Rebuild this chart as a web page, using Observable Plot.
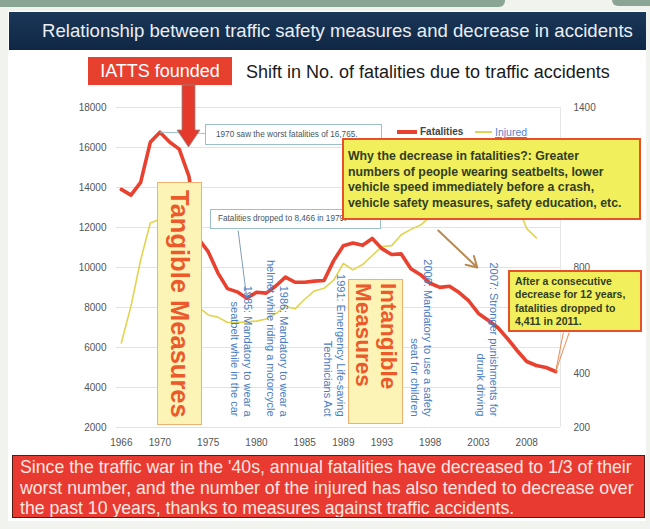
<!DOCTYPE html>
<html><head><meta charset="utf-8">
<script src="https://cdn.jsdelivr.net/npm/d3@7"></script>
<script src="https://cdn.jsdelivr.net/npm/@observablehq/plot@0.6"></script>
<style>
body{margin:0;background:#f1f3ee;font-family:"Liberation Sans",Arial,sans-serif;}
#page{position:relative;width:650px;height:529px;overflow:hidden;}
.abs{position:absolute;}
.callout{position:absolute;box-sizing:border-box;background:#fff;border:1px solid #9cc0c8;font-size:8.2px;color:#445566;white-space:nowrap;}
.ybox{position:absolute;box-sizing:border-box;background:#f1ef5c;border:2px solid #e8502a;font-weight:bold;color:#323d22;white-space:nowrap;}
.mbox{position:absolute;box-sizing:border-box;background:#fbf4b6;border:1.5px solid #f0b070;color:#ec5a2c;font-weight:bold;display:flex;justify-content:center;}
.vert{writing-mode:vertical-rl;white-space:nowrap;}
</style></head><body>
<div id="page">
  <div class="abs" style="left:0;top:0;width:505px;height:7px;background:#8aa593;border-radius:0 0 6px 0"></div>
  <div class="abs" style="left:612px;top:0;width:38px;height:6px;background:#8aa593;border-radius:0 0 0 6px"></div>
  <div class="abs" style="left:8px;top:11px;width:638px;height:510px;background:#fff;"></div>
  <div class="abs" style="left:9px;top:12px;width:637px;height:38px;background:linear-gradient(#1b3758,#0f2744);color:#e9eef4;font-size:18.6px;line-height:38px;padding-left:33px;box-sizing:border-box;">Relationship between traffic safety measures and decrease in accidents</div>
  <div class="abs" style="left:88px;top:57px;width:144px;height:28px;background:#e8402f;color:#fff;font-size:18px;line-height:28px;text-align:center;">IATTS founded</div>
  <div class="abs" style="left:246px;top:61px;font-size:18px;line-height:22px;color:#1a1a1a;white-space:nowrap;">Shift in No. of fatalities due to traffic accidents</div>
  <div id="chart" class="abs" style="left:0;top:50px"></div>

  <svg class="abs" style="left:0;top:0" width="650" height="160">
    <polygon points="182,85 195,85 195,130 200,130 188.5,147 177,130 182,130" fill="#e53a2b" stroke="#8c8c8c" stroke-width="0.8"/>
  </svg>

  <div class="callout" style="left:205px;top:124px;width:177px;height:21px;line-height:19px;padding-left:10px;">1970 saw the worst fatalities of 16,765.</div>
  <div class="callout" style="left:210px;top:209px;width:171px;height:20px;line-height:18px;padding-left:7px;">Fatalities dropped to 8,466 in 1979.</div>

  <div class="abs" style="left:397px;top:130px;width:20px;height:4px;background:#e8412f"></div>
  <div class="abs" style="left:420px;top:126px;font-size:10px;line-height:12px;font-weight:bold;color:#444">Fatalities</div>
  <div class="abs" style="left:475px;top:131px;width:17px;height:1.6px;background:#e2d44e"></div>
  <div class="abs" style="left:495px;top:126px;font-size:10.5px;line-height:12px;color:#5a7fc8;text-decoration:underline">Injured</div>

  <div class="ybox" style="left:342px;top:138px;width:299px;height:82px;font-size:12.3px;line-height:15.7px;padding:9px 0 0 4px;">Why the decrease in fatalities?: Greater<br>numbers of people wearing seatbelts, lower<br>vehicle speed immediately before a crash,<br>vehicle safety measures, safety education, etc.</div>
  <div class="ybox" style="left:508px;top:270px;width:134px;height:62px;font-size:10.5px;line-height:13.3px;padding:3px 0 0 5px;">After a consecutive<br>decrease for 12 years,<br>fatalities dropped to<br>4,411 in 2011.</div>

  <div class="mbox" style="left:157px;top:182px;width:45px;height:243px;align-items:center;"><div class="vert" style="font-size:25.5px;">Tangible Measures</div></div>
  <div class="mbox" style="left:348px;top:279px;width:55px;height:145px;align-items:flex-start;padding-top:3px;"><div class="vert" style="font-size:22.5px;line-height:25px;">Intangible<br>Measures</div></div>

  <div class="abs" style="left:12px;top:455px;width:633px;height:63px;box-sizing:border-box;background:#e83a30;color:#fde6e2;font-size:17.7px;line-height:20.5px;padding:1px 0 0 7px;border:1px solid #5a1a14;white-space:nowrap;overflow:hidden;">Since the traffic war in the '40s, annual fatalities have decreased to 1/3 of their<br>worst number, and the number of the injured has also tended to decrease over<br>the past 10 years, thanks to measures against traffic accidents.</div>
</div>
<script>
const years = [1966,1967,1968,1969,1970,1971,1972,1973,1974,1975,1976,1977,1978,1979,1980,1981,1982,1983,1984,1985,1986,1987,1988,1989,1990,1991,1992,1993,1994,1995,1996,1997,1998,1999,2000,2001,2002,2003,2004,2005,2006,2007,2008,2009,2010,2011];
const fatalities = [13904,13618,14256,16257,16765,16278,15918,14574,11432,10792,9734,8945,8783,8466,8760,8719,9073,9520,9262,9261,9317,9347,10344,11086,11227,11109,11452,10942,10649,10679,9942,9640,9211,9006,9066,8747,8326,7702,7358,7000,6450,5850,5300,5100,5000,4800];
const injured = [517,655,828,967,981,949,889,789,651,622,614,594,594,596,599,607,627,654,645,681,712,722,753,815,791,811,845,879,882,923,943,959,991,1050,1156,1181,1168,1181,1183,1157,1099,1035,946,911];
const leftTicks = [2000,4000,6000,8000,10000,12000,14000,16000,18000];
// right-axis ticks visible in the reference (600, 1000, 1200 are hidden behind callouts)
const rightTicks = [200,400,800,1400];
const xTickYears = [1966,1970,1975,1980,1985,1989,1993,1998,2003,2008];
const measureLabels = [
  "1985: Mandatory to wear a\nseatbelt while in the car",
  "1986: Mandatory to wear a\nhelmet while riding a motorcycle",
  "1991: Emergency Life-saving\nTechnicians Act",
  "2000: Mandatory to use a safety\nseat for children",
  "2007: Stronger punishments for\ndrunk driving"
];
const measureAt = [1979.7, 1983.35, 1989.25, 1998.35, 2005.1];

const toLeft = v => 2000 + (v - 200) * 16000 / 1200;
const fromLeft = v => 200 + (v - 2000) * 1200 / 16000;

const fatalData = years.map((year, i) => ({year, value: fatalities[i]}));
const injuredData = injured.map((value, i) => ({year: years[i], value}));
const lastYear = years[years.length - 1], lastFatal = fatalities[fatalities.length - 1];

const chart = Plot.plot({
  width: 650, height: 405,
  marginLeft: 116, marginRight: 90, marginTop: 57, marginBottom: 28,
  x: {domain: [1965.5, 2011.5]},
  y: {domain: [2000, 18000]},
  style: {fontFamily: "'Liberation Sans', Arial, sans-serif", fontSize: "10px", background: "transparent", color: "#555", overflow: "visible"},
  marks: [
    Plot.gridY(leftTicks, {stroke: "#e2e2e2", strokeOpacity: 1}),
    Plot.ruleX([2011.5], {stroke: "#e6e6e6"}),
    Plot.axisY(leftTicks, {anchor: "left", tickSize: 0, tickPadding: 10, tickFormat: d => String(d), label: null}),
    Plot.axisY(rightTicks.map(toLeft), {anchor: "right", tickSize: 0, tickPadding: 13, tickFormat: d => String(Math.round(fromLeft(d))), label: null}),
    Plot.axisX(xTickYears, {anchor: "bottom", tickSize: 0, tickPadding: 11, tickFormat: d => String(d), label: null}),
    Plot.line(injuredData, {x: "year", y: d => toLeft(d.value), stroke: "#e2d44e", strokeWidth: 1.6}),
    Plot.line(fatalData, {x: "year", y: "value", stroke: "#e8412f", strokeWidth: 3.6, strokeLinejoin: "round"}),
    Plot.link([{x1: 1970, y1: 16765, x2: 1974.7, y2: 16700}], {x1: "x1", y1: "y1", x2: "x2", y2: "y2", stroke: "#9cc0c8", strokeWidth: 1}),
    Plot.link([{x1: 1978.1, y1: 11850, x2: 1979, y2: 8466}], {x1: "x1", y1: "y1", x2: "x2", y2: "y2", stroke: "#7f9db8", strokeWidth: 1}),
    Plot.link([{x1: 2011.8, y1: 6750}, {x1: 2012.4, y1: 6750}], {x1: "x1", y1: "y1", x2: () => lastYear, y2: () => lastFatal, stroke: "#f08a50", strokeWidth: 1}),
    Plot.arrow([{x1: 1998.84, y1: 11850, x2: 2002.88, y2: 10000}], {x1: "x1", y1: "y1", x2: "x2", y2: "y2", stroke: "#b88a52", strokeWidth: 2, headLength: 9}),
    Plot.text(measureLabels, {x: (d, i) => measureAt[i], y: () => 2550, text: d => d, rotate: 90, textAnchor: "end", lineAnchor: "top", lineHeight: 1.18, fontSize: 11, fill: "#4a7cc0"})
  ]
});
document.getElementById("chart").appendChild(chart);
</script>
</body></html>
